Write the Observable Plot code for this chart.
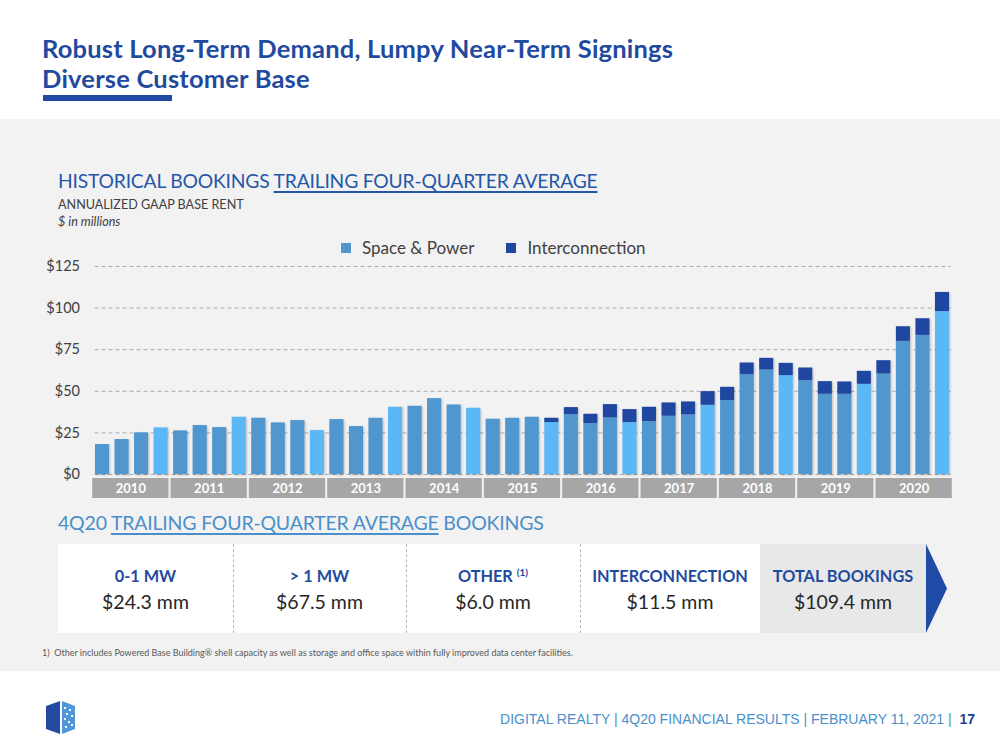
<!DOCTYPE html>
<html>
<head>
<meta charset="utf-8">
<script src="https://cdn.jsdelivr.net/npm/d3@7"></script>
<script src="https://cdn.jsdelivr.net/npm/@observablehq/plot@0.6"></script>
<style>
  html, body { margin: 0; padding: 0; }
  body { width: 1000px; height: 750px; position: relative; background: #ffffff; overflow: hidden; font-family: Lato, "Open Sans", sans-serif; }
  .abs { position: absolute; white-space: nowrap; }
  #title { left: 42px; top: 33px; font-size: 25.5px; font-weight: 700; color: #1f4a9e; line-height: 30px; letter-spacing: 0.2px; }
  #titlebar { left: 43px; top: 95px; width: 129px; height: 6px; background: #1f4aa6; }
  #panel { left: 0; top: 119px; width: 1000px; height: 552px; background: #f2f2f2; }
  #h1 { left: 58px; top: 169px; font-size: 19.3px; color: #2557a8; letter-spacing: -0.2px; }
  #h1 u, #h2 u { text-underline-offset: 3px; text-decoration-thickness: 1.5px; }
  #sub1 { left: 58px; top: 197px; font-size: 12.6px; color: #404040; }
  #sub2 { left: 58px; top: 214px; font-size: 12.6px; color: #404040; font-style: italic; }
  #legend { left: 341px; top: 237px; font-size: 17px; color: #404040; display: flex; align-items: center; }
  #legend .sw { width: 10px; height: 10px; display: inline-block; margin-right: 11px; }
  #legend .item { display: flex; align-items: center; margin-right: 32px; }
  #chart { left: 0; top: 250px; }
  #years { left: 0; top: 478px; }
  #chart g[aria-label="bar"] { filter: drop-shadow(1.5px 1px 1px rgba(0,0,0,0.22)); }
  #h2 { left: 58px; top: 511px; font-size: 19.5px; color: #4a8fca; letter-spacing: -0.2px; }
  #white { left: 58px; top: 544px; width: 702px; height: 89px; background: #ffffff; }
  #grey { left: 760px; top: 544px; width: 166px; height: 89px; background: #e8e8e8; }
  .sep { position: absolute; top: 544px; height: 89px; width: 0; border-left: 1px dashed #b8b8b8; }
  .lab { position: absolute; top: 566px; font-size: 16.3px; font-weight: 700; color: #1f4a9e; text-align: center; transform: translateX(-50%); white-space: nowrap; }
  .lab sup { font-size: 10px; vertical-align: 6px; }
  .val { position: absolute; top: 590px; font-size: 19.5px; color: #262626; text-align: center; transform: translateX(-50%); white-space: nowrap; }
  #foot { left: 42px; top: 647px; font-size: 9px; color: #595959; }
  #footer { right: 25px; top: 711px; font-family: "Liberation Sans Narrow", "Liberation Sans", sans-serif; font-size: 14px; color: #4a8fca; }
  #footer b { color: #1f3f8f; }
</style>
</head>
<body>
<div class="abs" id="panel"></div>
<div class="abs" id="title">Robust Long-Term Demand, Lumpy Near-Term Signings<br>Diverse Customer Base</div>
<div class="abs" id="titlebar"></div>
<div class="abs" id="h1">HISTORICAL BOOKINGS <u>TRAILING FOUR-QUARTER AVERAGE</u></div>
<div class="abs" id="sub1">ANNUALIZED GAAP BASE RENT</div>
<div class="abs" id="sub2">$ in millions</div>
<div class="abs" id="legend"></div>
<div class="abs" id="chart"></div>
<div class="abs" id="years"></div>
<div class="abs" id="h2">4Q20 <u>TRAILING FOUR-QUARTER AVERAGE</u> BOOKINGS</div>
<div class="abs" id="white"></div>
<div class="abs" id="grey"></div>
<svg class="abs" style="left:926px;top:544px" width="22" height="89"><polygon points="0,0 21,44.5 0,89" fill="#1f4aa6"/></svg>
<div id="summary"></div>
<div class="abs" id="foot">1)&nbsp; Other includes Powered Base Building® shell capacity as well as storage and office space within fully improved data center facilities.</div>
<svg class="abs" style="left:44px;top:700px" width="34" height="35">
  <polygon points="2,6 16,1 16,34 2,29" fill="#2449a0"/>
  <polygon points="18,1 31,6 31,29 18,34" fill="#4f97d8"/>
  <g fill="#ffffff">
    <rect x="20" y="7" width="2" height="2"/><rect x="25" y="9" width="2" height="2"/><rect x="22" y="13" width="2" height="2"/>
    <rect x="27" y="15" width="2" height="2"/><rect x="20" y="18" width="2" height="2"/><rect x="24" y="21" width="2" height="2"/>
    <rect x="21" y="26" width="2" height="2"/><rect x="27" y="24" width="2" height="2"/>
  </g>
</svg>
<div class="abs" id="footer">DIGITAL REALTY | 4Q20 FINANCIAL RESULTS | FEBRUARY 11, 2021 | &nbsp;<b>17</b></div>

<script>
// ---- data ----
const years = ["2010","2011","2012","2013","2014","2015","2016","2017","2018","2019","2020"];
const quarters = ["Q1","Q2","Q3","Q4"];
const spacePower = [
  18.0, 21.0, 25.0, 28.0,
  26.2, 29.4, 28.2, 34.4,
  33.8, 31.0, 32.4, 26.4,
  33.0, 28.8, 33.8, 40.4,
  41.0, 45.6, 41.8, 39.8,
  33.2, 33.8, 34.4, 31.2,
  36.0, 30.6, 34.0, 31.2,
  31.8, 35.0, 35.8, 41.6,
  44.4, 60.0, 62.8, 59.4,
  56.4, 48.2, 48.2, 54.2,
  60.4, 80.0, 83.6, 97.9
];
const interconnection = [
  0, 0, 0, 0,
  0, 0, 0, 0,
  0, 0, 0, 0,
  0, 0, 0, 0,
  0, 0, 0, 0,
  0, 0, 0, 2.6,
  4.2, 5.6, 8.0, 7.8,
  8.6, 8.0, 7.8, 8.2,
  8.0, 7.0, 7.0, 7.4,
  7.6, 7.6, 7.4, 7.8,
  8.0, 8.8, 10.0, 11.5
];
const yTicks = [0, 25, 50, 75, 100, 125];
const seriesNames = ["Space & Power", "Interconnection"];
const summaryLabels = ["0-1 MW", "> 1 MW", "OTHER", "INTERCONNECTION", "TOTAL BOOKINGS"];
const summaryNotes = ["", "", "(1)", "", ""];
const summaryValues = ["$24.3 mm", "$67.5 mm", "$6.0 mm", "$11.5 mm", "$109.4 mm"];

// ---- styles ----
const colDark = "#4f97ce";
const colLight = "#5ab8f7";
const colInter = "#1f46a1";
const fontFam = "Lato, 'Open Sans', sans-serif";

// legend
const legend = document.getElementById("legend");
[colDark, colInter].forEach((c, i) => {
  const it = document.createElement("div");
  it.className = "item";
  it.innerHTML = `<span class="sw" style="background:${c}"></span><span>${seriesNames[i]}</span>`;
  legend.appendChild(it);
});

// table
const rows = [];
const keys = [];
years.forEach((yr, yi) => quarters.forEach((qq, qi) => {
  const i = yi * 4 + qi;
  const key = yr + " " + qq;
  keys.push(key);
  rows.push({key, series: seriesNames[0], value: spacePower[i], q4: qi === 3});
  rows.push({key, series: seriesNames[1], value: interconnection[i], q4: qi === 3});
}));

const chart = Plot.plot({
  width: 1000,
  height: 236,
  marginLeft: 89.5,
  marginRight: 45.5,
  marginTop: 16,
  marginBottom: 12,
  style: {background: "transparent", fontFamily: fontFam, fontSize: "14.5px", color: "#404040"},
  x: {domain: keys, padding: 0.28, round: false, axis: null},
  y: {domain: [0, 125], ticks: yTicks, tickFormat: d => "$" + d, tickSize: 0, tickPadding: 10, label: null},
  color: {type: "identity"},
  marks: [
    Plot.ruleY(yTicks, {insetLeft: 5, insetRight: 4, stroke: "#ababab", strokeDasharray: "4,3", strokeWidth: 1}),
    Plot.barY(rows, Plot.stackY({
      x: "key",
      y: "value",
      fill: d => d.series === seriesNames[1] ? colInter : (d.q4 ? colLight : colDark)
    }))
  ]
});
document.getElementById("chart").appendChild(chart);

const yearPlot = Plot.plot({
  width: 1000,
  height: 20,
  marginLeft: 92.2,
  marginRight: 48.2,
  marginTop: 0,
  marginBottom: 0,
  style: {background: "transparent", fontFamily: fontFam},
  x: {domain: years, paddingInner: 0.026, paddingOuter: 0, round: false, axis: null},
  marks: [
    Plot.cell(years, {x: d => d, fill: "#a6a6a6"}),
    Plot.text(years, {x: d => d, text: d => d, fill: "#ffffff", fontWeight: "bold", fontSize: 13})
  ]
});
document.getElementById("years").appendChild(yearPlot);

// summary boxes
const bounds = [58, 233, 406, 580, 760, 926];
const summary = document.getElementById("summary");
[233, 406, 580].forEach(x => {
  const s = document.createElement("div");
  s.className = "sep";
  s.style.left = x + "px";
  summary.appendChild(s);
});
summaryLabels.forEach((l, i) => {
  const cx = (bounds[i] + bounds[i + 1]) / 2;
  const a = document.createElement("div");
  a.className = "lab";
  a.style.left = cx + "px";
  a.innerHTML = l.replace("&", "&amp;").replace(">", "&gt;") + (summaryNotes[i] ? ` <sup>${summaryNotes[i]}</sup>` : "");
  summary.appendChild(a);
  const v = document.createElement("div");
  v.className = "val";
  v.style.left = cx + "px";
  v.textContent = summaryValues[i];
  summary.appendChild(v);
});
</script>
</body>
</html>
